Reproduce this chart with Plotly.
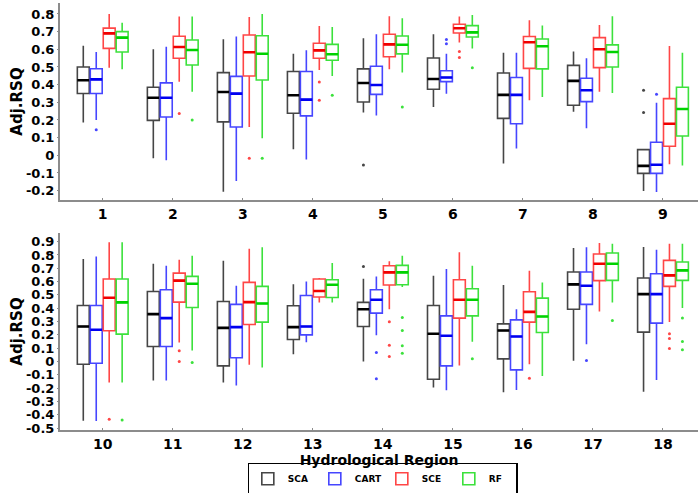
import plotly.graph_objects as go

regions = [str(i) for i in range(1, 19)]
models = ["SCA", "CART", "SCE", "RF"]

# ---- statistics per model, regions 1..18 (None = no outlier) ----
sca_lo = [0.185, -0.017, -0.206, 0.034, 0.242, 0.274, -0.047, 0.247, -0.202, -0.444, -0.143, -0.158, 0.055, 0.0, -0.195, -0.231, 0.005, -0.226]
sca_q1 = [0.35, 0.198, 0.189, 0.238, 0.302, 0.374, 0.209, 0.283, -0.102, -0.02, 0.113, -0.033, 0.165, 0.263, -0.133, 0.02, 0.393, 0.221]
sca_med = [0.425, 0.326, 0.358, 0.34, 0.409, 0.432, 0.342, 0.421, -0.06, 0.263, 0.356, 0.253, 0.258, 0.393, 0.208, 0.233, 0.579, 0.506]
sca_q3 = [0.50, 0.385, 0.468, 0.474, 0.489, 0.551, 0.466, 0.509, 0.032, 0.421, 0.526, 0.451, 0.419, 0.444, 0.421, 0.283, 0.672, 0.627]
sca_hi = [0.62, 0.60, 0.657, 0.575, 0.662, 0.685, 0.581, 0.587, 0.035, 0.769, 0.734, 0.757, 0.581, 0.622, 0.644, 0.574, 0.852, 0.86]
sca_out = [[None], [None], [None], [None], [-0.055], [None], [None], [None], [0.368, 0.242], [None], [None], [None], [None], [0.714], [None], [None], [None], [None]]

cart_lo = [0.20, -0.028, -0.145, -0.023, 0.226, 0.349, 0.038, 0.153, -0.208, -0.446, -0.143, -0.18, 0.145, 0.198, -0.216, -0.213, 0.13, -0.138]
cart_q1 = [0.35, 0.217, 0.16, 0.223, 0.345, 0.417, 0.179, 0.304, -0.102, -0.013, 0.113, 0.028, 0.2, 0.363, -0.033, -0.063, 0.429, 0.288]
cart_med = [0.43, 0.326, 0.349, 0.315, 0.398, 0.44, 0.342, 0.368, -0.053, 0.238, 0.326, 0.258, 0.263, 0.464, 0.193, 0.188, 0.569, 0.506]
cart_q3 = [0.49, 0.41, 0.447, 0.474, 0.504, 0.479, 0.44, 0.436, 0.074, 0.421, 0.539, 0.429, 0.496, 0.539, 0.343, 0.313, 0.672, 0.659]
cart_hi = [0.585, 0.615, 0.672, 0.594, 0.685, 0.575, 0.581, 0.549, 0.298, 0.789, 0.719, 0.569, 0.601, 0.639, 0.694, 0.393, 0.857, 0.84]
cart_out = [[0.145], [None], [None], [None], [None], [0.655, 0.632], [None], [None], [0.345], [None], [None], [None], [None], [0.068, -0.13], [None], [None], [0.008], [None]]

sce_lo = [0.495, 0.417, 0.16, 0.483, 0.487, 0.638, 0.311, 0.36, -0.051, -0.158, 0.143, -0.025, 0.444, 0.393, -0.03, -0.02, 0.376, 0.296]
sce_q1 = [0.605, 0.549, 0.449, 0.549, 0.558, 0.692, 0.492, 0.496, 0.051, 0.231, 0.446, 0.278, 0.484, 0.574, 0.326, 0.296, 0.607, 0.564]
sce_med = [0.69, 0.613, 0.583, 0.594, 0.628, 0.719, 0.64, 0.60, 0.179, 0.479, 0.607, 0.446, 0.529, 0.669, 0.464, 0.373, 0.734, 0.647]
sce_q3 = [0.72, 0.674, 0.681, 0.634, 0.685, 0.742, 0.672, 0.666, 0.321, 0.619, 0.664, 0.594, 0.619, 0.719, 0.614, 0.524, 0.807, 0.759]
sce_hi = [0.80, 0.785, 0.783, 0.732, 0.787, 0.785, 0.764, 0.738, 0.619, 0.895, 0.764, 0.847, 0.627, 0.752, 0.82, 0.682, 0.89, 0.885]
sce_out = [[None], [0.236], [-0.017], [0.415, 0.311], [None], [0.587, 0.553], [None], [None], [None], [-0.434], [0.08, 0.0], [None], [None], [0.298, 0.123, 0.038], [None], [-0.125], [None], [0.208, 0.173, 0.098]]

rf_lo = [0.487, 0.36, 0.096, 0.449, 0.468, 0.604, 0.33, 0.353, -0.057, -0.158, 0.083, -0.045, 0.444, 0.56, 0.148, -0.108, 0.444, 0.401]
rf_q1 = [0.585, 0.511, 0.426, 0.538, 0.574, 0.67, 0.489, 0.50, 0.109, 0.206, 0.406, 0.296, 0.481, 0.576, 0.343, 0.218, 0.609, 0.609]
rf_med = [0.666, 0.596, 0.575, 0.572, 0.626, 0.696, 0.617, 0.585, 0.262, 0.444, 0.584, 0.436, 0.576, 0.669, 0.464, 0.338, 0.734, 0.684]
rf_q3 = [0.70, 0.653, 0.677, 0.628, 0.675, 0.734, 0.658, 0.625, 0.385, 0.619, 0.639, 0.564, 0.614, 0.722, 0.546, 0.476, 0.815, 0.747]
rf_hi = [0.75, 0.785, 0.80, 0.726, 0.775, 0.794, 0.734, 0.787, 0.581, 0.895, 0.794, 0.857, 0.739, 0.794, 0.719, 0.594, 0.885, 0.885]
rf_out = [[None], [0.20], [-0.017], [0.34], [0.274], [0.496], [None], [None], [None], [-0.439], [-0.008], [None], [None], [0.331, 0.233, 0.118, 0.063], [0.02], [None], [0.308], [0.326, 0.15, 0.088]]

top_tickvals = [-0.2, -0.1, 0, 0.1, 0.2, 0.3, 0.4, 0.5, 0.6, 0.7, 0.8]
top_ticktext = ["-0.2", "-0.1", "0", "0.1", "0.2", "0.3", "0.4", "0.5", "0.6", "0.7", "0.8"]
bot_tickvals = [-0.5, -0.4, -0.3, -0.2, -0.1, 0, 0.1, 0.2, 0.3, 0.4, 0.5, 0.6, 0.7, 0.8, 0.9]
bot_ticktext = ["-0.5", "-0.4", "-0.3", "-0.2", "-0.1", "0", "0.1", "0.2", "0.3", "0.4", "0.5", "0.6", "0.7", "0.8", "0.9"]

stats = {
    "SCA": (sca_lo, sca_q1, sca_med, sca_q3, sca_hi, sca_out),
    "CART": (cart_lo, cart_q1, cart_med, cart_q3, cart_hi, cart_out),
    "SCE": (sce_lo, sce_q1, sce_med, sce_q3, sce_hi, sce_out),
    "RF": (rf_lo, rf_q1, rf_med, rf_q3, rf_hi, rf_out),
}
colors = {"SCA": "rgb(70,70,70)", "CART": "rgb(70,70,255)", "SCE": "rgb(255,70,70)", "RF": "rgb(60,225,60)"}
median_colors = {"SCA": "rgb(0,0,0)", "CART": "rgb(0,0,240)", "SCE": "rgb(240,0,0)", "RF": "rgb(0,210,0)"}

FONT = "DejaVu Sans"
fig = go.Figure()
for panel, (sl, xa, ya) in enumerate([(slice(0, 9), "x", "y"), (slice(9, 18), "x2", "y2")]):
    for m in models:
        lo, q1, med, q3, hi, out = stats[m]
        fig.add_trace(go.Box(
            x=regions[sl], y=out[sl],
            q1=q1[sl], median=med[sl], q3=q3[sl],
            lowerfence=lo[sl], upperfence=hi[sl],
            boxpoints="outliers",
            name=m, legendgroup=m, showlegend=(panel == 0),
            offsetgroup=m, alignmentgroup="panel%d" % panel,
            line=dict(color=colors[m], width=1.6),
            fillcolor="rgba(255,255,255,0)",
            marker=dict(color=colors[m], size=3),
            whiskerwidth=0,
            xaxis=xa, yaxis=ya,
            hoverinfo="skip",
        ))
        # bold median bar drawn as a degenerate box on the same offset slot
        fig.add_trace(go.Box(
            x=regions[sl],
            q1=med[sl], median=med[sl], q3=med[sl],
            lowerfence=med[sl], upperfence=med[sl],
            boxpoints=False,
            name=m, legendgroup=m, showlegend=False,
            offsetgroup=m, alignmentgroup="panel%d" % panel,
            line=dict(color=median_colors[m], width=2.6),
            fillcolor="rgba(255,255,255,0)",
            whiskerwidth=0,
            xaxis=xa, yaxis=ya,
            hoverinfo="skip",
        ))

axis_common = dict(showline=True, linecolor="#8c8c8c", linewidth=2, showgrid=False,
                   zeroline=False, tickcolor="#8c8c8c")
xaxis_common = dict(type="category", range=[-0.61, 8.5], ticks="inside", ticklen=2,
                    tickfont=dict(size=14, family=FONT, weight="bold"), **axis_common)
yaxis_common = dict(ticks="outside", ticklen=1,
                    tickfont=dict(size=13, family=FONT, weight="bold"), **axis_common)
ytitle = dict(text="Adj.RSQ", font=dict(size=15, family=FONT, weight="bold"), standoff=0)

fig.update_layout(
    width=699, height=493,
    margin=dict(l=60, r=1, t=3, b=63, autoexpand=False),
    paper_bgcolor="white", plot_bgcolor="white",
    boxmode="group", boxgap=0.26, boxgroupgap=0.08,
    font=dict(family=FONT, color="black", weight="bold"),
    xaxis=dict(domain=[0, 1], anchor="y", **xaxis_common),
    yaxis=dict(domain=[0.5386, 1], anchor="x", range=[-0.253, 0.862],
               tickvals=top_tickvals, ticktext=top_ticktext, title=ytitle, **yaxis_common),
    xaxis2=dict(domain=[0, 1], anchor="y2",
                title=dict(text="Hydrological Region", font=dict(size=14, family=FONT, weight="bold"), standoff=3),
                **xaxis_common),
    yaxis2=dict(domain=[0, 0.4614], anchor="x2", range=[-0.514, 0.965],
                tickvals=bot_tickvals, ticktext=bot_ticktext, title=ytitle, **yaxis_common),
    legend=dict(orientation="h", x=0.506, xanchor="center", y=-0.114, yanchor="middle",
                bordercolor="black", borderwidth=1.5, bgcolor="white",
                font=dict(size=9, family=FONT, weight="bold"),
                entrywidth=22, entrywidthmode="pixels", itemclick=False),
)
fig.write_html("out.html", config={"displayModeBar": False},
               post_script="document.body.style.margin='0';")
